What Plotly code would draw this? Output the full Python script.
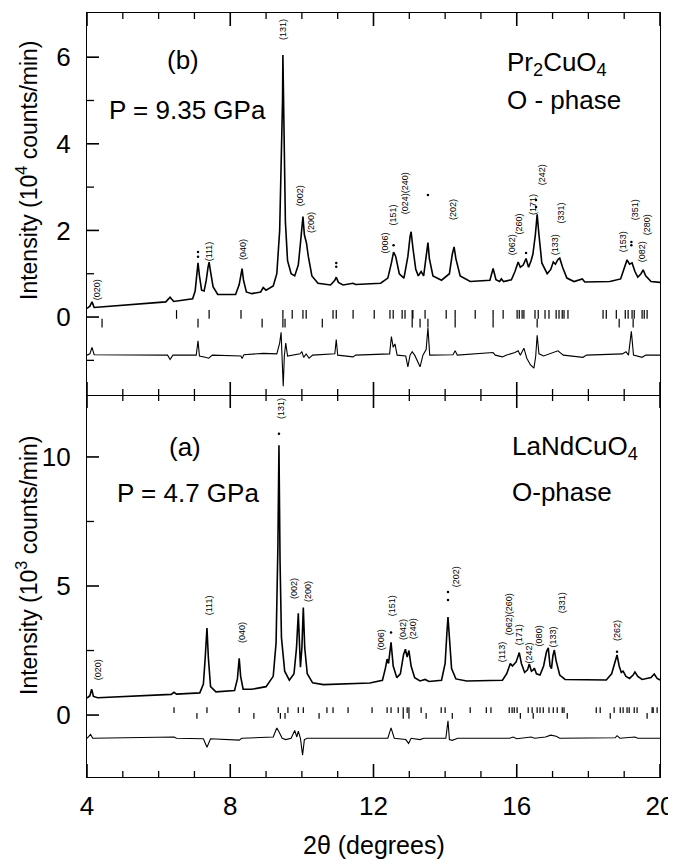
import plotly.graph_objects as go

FONT = "Liberation Sans, Arial, Helvetica, sans-serif"

# ================= Panel (b): Pr2CuO4, P = 9.35 GPa  (10^4 counts/min) =================
b_obs_x = [4.00, 4.08, 4.14, 4.20, 6.20, 6.32, 6.42, 6.95, 7.02, 7.07, 7.10, 7.14, 7.20, 7.27,
           7.33, 7.38, 7.41, 7.45, 7.52, 7.65, 8.15, 8.25, 8.30, 8.33, 8.37, 8.45, 8.60, 8.85,
           8.92, 9.00, 9.20, 9.30, 9.38, 9.43, 9.46, 9.47, 9.50, 9.54, 9.60, 9.70, 9.80, 9.90,
           9.96, 10.00, 10.03, 10.07, 10.13, 10.18, 10.28, 10.45, 10.80, 10.92, 10.96, 11.02,
           11.15, 11.43, 11.50, 12.20, 12.40, 12.50, 12.56, 12.62, 12.72, 12.85, 12.96, 13.02,
           13.05, 13.10, 13.18, 13.25, 13.33, 13.40, 13.47, 13.52, 13.56, 13.66, 13.90, 14.12,
           14.20, 14.25, 14.30, 14.42, 14.70, 15.25, 15.34, 15.42, 15.52, 15.57, 15.63, 15.85,
           15.95, 16.04, 16.10, 16.18, 16.26, 16.33, 16.40, 16.45, 16.52, 16.57, 16.62, 16.70,
           16.85, 16.95, 17.02, 17.08, 17.15, 17.20, 17.28, 17.40, 17.60, 17.83, 17.90, 18.60,
           18.90, 19.00, 19.08, 19.15, 19.22, 19.30, 19.38, 19.47, 19.53, 19.60, 19.75, 20.00]
b_obs_y = [0.20, 0.25, 0.35, 0.22, 0.35, 0.46, 0.36, 0.42, 0.60, 1.00, 1.25, 0.95, 0.62, 0.60,
           0.85, 1.15, 1.27, 1.05, 0.70, 0.52, 0.52, 0.75, 1.05, 1.12, 0.85, 0.58, 0.54, 0.58,
           0.68, 0.62, 0.72, 1.00, 2.00, 3.50, 5.00, 6.05, 4.00, 2.20, 1.30, 1.00, 0.95, 1.20,
           1.70, 2.20, 2.32, 1.90, 1.70, 1.40, 0.95, 0.78, 0.74, 0.85, 0.92, 0.80,
           0.74, 0.78, 0.75, 0.78, 0.90, 1.25, 1.50, 1.40, 1.00, 0.90, 1.40, 1.85,
           1.97, 1.60, 1.10, 0.95, 1.05, 0.95, 1.35, 1.72, 1.35, 0.95, 0.85, 1.00,
           1.45, 1.62, 1.35, 0.95, 0.82, 0.85, 1.12, 0.86, 0.82, 0.88, 0.82, 0.86,
           1.05, 1.27, 1.15, 1.20, 1.35, 1.15, 1.30, 1.45, 1.90, 2.37, 1.90, 1.25,
           1.00, 1.10, 1.27, 1.22, 1.33, 1.36, 1.15, 0.90, 0.82, 0.88, 0.81, 0.82,
           0.88, 1.10, 1.32, 1.22, 1.25, 1.05, 0.92, 1.00, 1.09, 0.95, 0.82, 0.80]

b_diff_x = [4.00, 4.08, 4.14, 4.20, 6.25, 6.32, 6.40, 7.05, 7.10, 7.14, 7.30, 7.40, 7.50, 8.30,
            8.33, 8.38, 8.92, 9.30, 9.38, 9.42, 9.45, 9.48, 9.51, 9.55, 9.60, 9.95, 10.00, 10.05,
            10.12, 10.20, 10.30, 10.92, 10.96, 11.00, 11.43, 11.50, 12.45, 12.50, 12.55, 12.60,
            12.66, 12.90, 12.96, 13.02, 13.08, 13.15, 13.30, 13.38, 13.47, 13.52, 13.57, 14.22,
            14.28, 14.34, 15.34, 15.40, 15.60, 15.70, 15.95, 16.04, 16.10, 16.20, 16.28, 16.38,
            16.48, 16.53, 16.57, 16.62, 16.75, 17.15, 17.30, 17.85, 17.95, 18.95, 19.05, 19.12,
            19.20, 19.26, 19.50, 19.60, 20.00]
b_diff_y = [-0.88, -0.85, -0.70, -0.87, -0.88, -0.98, -0.88, -0.88, -0.55, -0.90, -0.93, -0.95, -0.88, -0.90,
            -0.96, -0.87, -0.84, -0.85, -0.60, -0.35, -1.00, -1.60, -0.90, -0.60, -0.90, -0.85, -0.80, -0.93,
            -0.85, -0.95, -0.88, -0.85, -0.52, -0.88, -0.92, -0.88, -0.85, -0.45, -0.70, -0.62,
            -0.88, -0.90, -1.15, -0.88, -0.80, -0.88, -1.15, -0.88, -0.75, -0.25, -0.88, -0.87,
            -0.78, -0.88, -0.82, -0.88, -0.92, -0.88, -0.82, -0.78, -0.88, -0.72, -0.95, -1.10,
            -1.18, -0.90, -0.42, -0.85, -0.90, -0.78, -0.88, -0.93, -0.88, -0.85, -0.80, -0.88,
            -0.33, -0.88, -0.93, -0.88, -0.88]

b_refl_1 = [6.50, 7.41, 8.30, 9.47, 9.73, 10.03, 10.12, 10.87, 10.96, 11.43, 12.02, 12.46, 12.55,
            12.80, 12.88, 13.08, 13.10, 13.44, 14.03, 14.28, 14.84, 15.34, 15.62, 16.01, 16.07,
            16.15, 16.20, 16.51, 16.60, 16.79, 16.90, 17.10, 17.18, 17.27, 17.32, 17.43, 18.41,
            18.50, 18.78, 19.03, 19.11, 19.22, 19.28, 19.50, 19.56, 19.64]
b_refl_2 = [4.42, 7.10, 8.89, 9.47, 9.53, 10.57, 13.08, 13.30, 13.52, 14.28, 15.34, 16.57, 18.86, 19.25]

b_dots_x = [7.10, 7.10, 10.96, 10.96, 12.56, 13.52, 16.54, 16.54, 16.26, 19.20, 19.20]
b_dots_y = [1.50, 1.39, 1.25, 1.16, 1.66, 2.82, 2.70, 2.54, 1.48, 1.73, 1.66]

b_lbl_text = ["(020)", "(111)", "(040)", "(131)", "(002)", "(200)", "(006)", "(151)", "(024)(240)",
              "(202)", "(062)", "(260)", "(171)", "(242)", "(133)", "(331)", "(153)", "(351)",
              "(082)", "(280)"]
b_lbl_x = [4.28, 7.41, 8.36, 9.47, 9.95, 10.25, 12.32, 12.55, 12.88,
           14.22, 15.87, 16.05, 16.46, 16.71, 17.07, 17.25, 18.97, 19.31,
           19.50, 19.64]
b_lbl_y = [0.62, 1.52, 1.55, 6.65, 2.79, 2.19, 1.72, 2.35, 2.86,
           2.47, 1.66, 2.15, 2.59, 3.28, 1.66, 2.40, 1.73, 2.47,
           1.50, 2.12]

# ================= Panel (a): LaNdCuO4, P = 4.7 GPa  (10^3 counts/min) =================
a_obs_x = [4.00, 4.08, 4.13, 4.18, 4.30, 6.35, 6.43, 6.50, 7.15, 7.25, 7.30, 7.35, 7.39, 7.45,
           7.60, 8.12, 8.20, 8.25, 8.29, 8.36, 8.60, 9.00, 9.20, 9.28, 9.33, 9.36, 9.39, 9.43,
           9.52, 9.65, 9.78, 9.85, 9.90, 9.94, 9.96, 10.00, 10.04, 10.08, 10.15, 10.30, 10.60,
           11.90, 12.25, 12.33, 12.38, 12.42, 12.49, 12.55, 12.65, 12.75, 12.84, 12.89, 12.94,
           12.99, 13.05, 13.15, 13.30, 13.44, 13.55, 13.90, 14.00, 14.05, 14.08, 14.12, 14.18,
           14.30, 14.60, 15.60, 15.72, 15.82, 15.88, 15.93, 15.98, 16.03, 16.07, 16.13, 16.22,
           16.30, 16.35, 16.41, 16.46, 16.49, 16.55, 16.65, 16.75, 16.83, 16.88, 16.93, 16.97,
           17.01, 17.05, 17.10, 17.20, 17.35, 18.50, 18.65, 18.75, 18.80, 18.86, 18.92, 18.97,
           19.05, 19.15, 19.25, 19.30, 19.38, 19.50, 19.75, 19.84, 19.92, 20.00]
a_obs_y = [0.66, 0.75, 1.00, 0.72, 0.67, 0.80, 0.88, 0.81, 0.86, 1.20, 2.20, 3.37, 2.20, 1.10,
           0.90, 0.95, 1.40, 2.20, 1.50, 1.00, 1.00, 1.10, 1.50, 2.80, 6.50, 10.45, 6.00, 3.00,
           1.70, 1.35, 1.60, 2.60, 3.94, 2.50, 1.85, 2.60, 4.17, 2.60, 1.60, 1.25, 1.18,
           1.24, 1.35, 1.80, 2.17, 2.00, 2.82, 1.90, 1.45, 1.60, 2.35, 2.55, 2.25,
           2.50, 1.90, 1.45, 1.32, 1.38, 1.30, 1.35, 2.00, 3.20, 3.80, 3.00, 1.80,
           1.40, 1.32, 1.35, 1.60, 2.00, 1.90, 1.98, 2.05, 2.25, 2.42, 2.00, 1.65,
           1.75, 1.98, 1.70, 1.75, 1.82, 1.60, 1.55, 1.90, 2.45, 2.60, 1.90, 1.80,
           2.30, 2.52, 2.10, 1.55, 1.38, 1.36, 1.60, 2.10, 2.33, 1.90, 1.65, 1.70,
           1.50, 1.42, 1.55, 1.67, 1.50, 1.38, 1.45, 1.59, 1.42, 1.36]

a_diff_x = [4.00, 4.10, 4.16, 6.43, 6.50, 7.25, 7.35, 7.45, 8.25, 8.32, 9.20, 9.30, 9.36, 9.45,
            9.55, 9.70, 9.80, 9.86, 9.90, 9.96, 10.02, 10.07, 10.15, 12.40, 12.49, 12.58, 12.90,
            12.98, 13.05, 13.30, 13.40, 14.02, 14.08, 14.12, 14.20, 14.35, 15.80, 15.90, 16.00,
            16.40, 16.50, 16.80, 16.95, 17.10, 17.20, 18.75, 18.80, 18.88, 19.30, 19.38, 20.00]
a_diff_y = [-0.90, -0.75, -0.90, -0.85, -0.90, -0.92, -1.25, -0.92, -0.97, -0.90, -0.85, -0.50, -0.65, -0.90,
            -0.95, -0.90, -0.60, -0.85, -0.62, -0.90, -1.55, -0.95, -0.90, -0.90, -0.50, -0.90, -0.95,
            -1.10, -0.90, -0.95, -0.90, -0.90, -0.22, -0.95, -0.98, -0.90, -0.90, -0.85, -0.92,
            -0.85, -0.90, -0.85, -0.78, -0.82, -0.90, -0.88, -0.80, -0.90, -0.85, -0.90, -0.90]

a_refl_1 = [6.43, 7.35, 8.25, 9.34, 9.61, 9.90, 10.04, 10.70, 10.87, 11.29, 11.96, 12.38, 12.49,
            12.69, 12.83, 12.94, 12.99, 13.33, 13.89, 14.00, 14.70, 15.15, 15.28, 15.79, 15.87,
            15.93, 16.01, 16.32, 16.43, 16.57, 16.65, 16.74, 16.90, 17.02, 17.13, 17.27, 17.32,
            18.22, 18.33, 18.72, 18.89, 18.97, 19.08, 19.14, 19.28, 19.36, 19.78, 19.81, 19.92]
a_refl_2 = [7.07, 8.66, 9.40, 9.53, 10.48, 12.83, 12.99, 13.47, 14.20, 16.10, 16.46, 17.41, 18.61, 19.64]

a_dots_x = [9.36, 12.49, 14.08, 14.08, 18.80]
a_dots_y = [10.90, 3.20, 4.77, 4.46, 2.45]

a_lbl_text = ["(020)", "(111)", "(040)", "(131)", "(002)", "(200)", "(006)", "(151)", "(042)",
              "(240)", "(202)", "(113)", "(062)(260)", "(171)", "(242)", "(080)", "(133)",
              "(331)", "(262)"]
a_lbl_x = [4.31, 7.41, 8.33, 9.42, 9.78, 10.17, 12.21, 12.52, 12.83,
           13.11, 14.31, 15.59, 15.79, 16.07, 16.35, 16.63, 17.02,
           17.27, 18.80]
a_lbl_y = [1.74, 4.26, 3.18, 11.86, 4.88, 4.80, 2.90, 4.22, 3.30,
           3.33, 5.35, 2.44, 3.91, 3.10, 2.40, 3.06, 3.02,
           4.34, 3.26]

# axis scales and tick values
X_RANGE = [4, 20]
A_RANGE = [-2.4, 12.4]
B_RANGE = [-1.8, 7.02]
x_major = [4, 8, 12, 16, 20]
x_minor = [5, 6, 7, 9, 10, 11, 13, 14, 15, 17, 18, 19]
a_ymajor = [0, 5, 10]
a_yminor = [2.5, 7.5]
b_ymajor = [0, 2, 4, 6]
b_yminor = [-1, 1, 3, 5]

# plot geometry (px) used to turn tick lengths into data units
PLOT_W, PANEL_H = 573, 382
MAJ_X, MIN_X, MAJ_Y, MIN_Y = 13, 6, 12, 7


def tick_segments(pos, lo, hi):
    xs, ys = [], []
    for p in pos:
        xs += [p, p, None]
        ys += [lo, hi, None]
    return xs, ys


fig = go.Figure()

for (obs_x, obs_y, dif_x, dif_y, r1, r2, dx, dy, xa, ya, lev) in [
    (b_obs_x, b_obs_y, b_diff_x, b_diff_y, b_refl_1, b_refl_2, b_dots_x, b_dots_y, "x2", "y2",
     (-0.04, 0.16, -0.24, -0.04)),
    (a_obs_x, a_obs_y, a_diff_x, a_diff_y, a_refl_1, a_refl_2, a_dots_x, a_dots_y, "x", "y",
     (0.08, 0.30, -0.14, 0.08)),
]:
    fig.add_trace(go.Scatter(x=obs_x, y=obs_y, mode="lines", xaxis=xa, yaxis=ya,
                             line=dict(color="black", width=1.6), hoverinfo="skip"))
    fig.add_trace(go.Scatter(x=dif_x, y=dif_y, mode="lines", xaxis=xa, yaxis=ya,
                             line=dict(color="black", width=1.1), hoverinfo="skip"))
    tx, ty = tick_segments(r1, lev[0], lev[1])
    fig.add_trace(go.Scatter(x=tx, y=ty, mode="lines", xaxis=xa, yaxis=ya,
                             line=dict(color="black", width=1.2), hoverinfo="skip"))
    tx, ty = tick_segments(r2, lev[2], lev[3])
    fig.add_trace(go.Scatter(x=tx, y=ty, mode="lines", xaxis=xa, yaxis=ya,
                             line=dict(color="black", width=1.2), hoverinfo="skip"))
    fig.add_trace(go.Scatter(x=dx, y=dy, mode="markers", xaxis=xa, yaxis=ya,
                             marker=dict(color="black", size=2.5), hoverinfo="skip"))

# inward frame ticks as layout shapes placed in each panel's data coordinates
shapes = []
xu = (X_RANGE[1] - X_RANGE[0]) / PLOT_W
for xr, yref, yr, ymaj, ymin in [("x", "y", A_RANGE, a_ymajor, a_yminor),
                                 ("x2", "y2", B_RANGE, b_ymajor, b_yminor)]:
    yu = (yr[1] - yr[0]) / PANEL_H
    for vals, ln, w in [(x_major, MAJ_X, 1.6), (x_minor, MIN_X, 1.3)]:
        for v in vals:
            for y0, y1 in [(yr[0], yr[0] + ln * yu), (yr[1] - ln * yu, yr[1])]:
                shapes.append(dict(type="line", xref=xr, yref=yref, x0=v, x1=v, y0=y0, y1=y1,
                                   line=dict(color="black", width=w), layer="above"))
    for vals, ln, w in [(ymaj, MAJ_Y, 1.6), (ymin, MIN_Y, 1.3)]:
        for v in vals:
            shapes.append(dict(type="line", xref=xr, yref=yref, x0=X_RANGE[0],
                               x1=X_RANGE[0] + ln * xu, y0=v, y1=v,
                               line=dict(color="black", width=w), layer="above"))

LBL = dict(size=9, family=FONT)
ann = []
for txt, x, y in zip(b_lbl_text, b_lbl_x, b_lbl_y):
    ann.append(dict(text=txt, x=x, y=y, xref="x2", yref="y2", textangle=-90, showarrow=False,
                    font=LBL))
for txt, x, y in zip(a_lbl_text, a_lbl_x, a_lbl_y):
    ann.append(dict(text=txt, x=x, y=y, xref="x", yref="y", textangle=-90, showarrow=False,
                    font=LBL))

big = dict(size=26, family=FONT)
ann += [
    dict(text="(b)", x=6.68, y=5.94, xref="x2", yref="y2", showarrow=False, font=big),
    dict(text="P = 9.35 GPa", x=4.56, y=4.78, xref="x2", yref="y2", xanchor="left",
         showarrow=False, font=big),
    dict(text="Pr<sub>2</sub>CuO<sub>4</sub>", x=15.68, y=5.85, xref="x2", yref="y2",
         xanchor="left", showarrow=False, font=big),
    dict(text="O - phase", x=15.68, y=5.01, xref="x2", yref="y2", xanchor="left",
         showarrow=False, font=big),
    dict(text="(a)", x=6.74, y=10.39, xref="x", yref="y", showarrow=False, font=big),
    dict(text="P = 4.7 GPa", x=4.78, y=8.6, xref="x", yref="y", xanchor="left",
         showarrow=False, font=big),
    dict(text="LaNdCuO<sub>4</sub>", x=15.82, y=10.35, xref="x", yref="y", xanchor="left",
         showarrow=False, font=big),
    dict(text="O-phase", x=15.82, y=8.64, xref="x", yref="y", xanchor="left",
         showarrow=False, font=big),
    dict(text="Intensity (10<sup>4</sup> counts/min)", x=-0.1047, y=0.7945, xref="paper",
         yref="paper", xanchor="center", yanchor="middle", textangle=-90, showarrow=False,
         font=dict(size=23, family=FONT)),
    dict(text="Intensity (10<sup>3</sup> counts/min)", x=-0.1047, y=0.2775, xref="paper",
         yref="paper", xanchor="center", yanchor="middle", textangle=-90, showarrow=False,
         font=dict(size=23, family=FONT)),
    dict(text="2θ (degrees)", x=0.5, y=-0.089, xref="paper", yref="paper", xanchor="center",
         yanchor="middle", showarrow=False, font=dict(size=25, family=FONT)),
]

fig.update_layout(
    width=668, height=856,
    margin=dict(l=79, r=16, t=5, b=87, autoexpand=False),
    plot_bgcolor="white", paper_bgcolor="white",
    showlegend=False,
    font=dict(family=FONT, color="black"),
    xaxis=dict(anchor="y", domain=[0, 1], range=X_RANGE, tickvals=x_major, ticks="",
               showline=True, linewidth=1.4, linecolor="black", mirror=False,
               showgrid=False, zeroline=False, tickfont=dict(size=26, family=FONT),
               ticklabelstandoff=6, ticklabeloverflow="allow"),
    xaxis2=dict(anchor="y2", domain=[0, 1], range=X_RANGE, ticks="", showline=True,
                linewidth=1.4, linecolor="black", mirror=True, showgrid=False, zeroline=False,
                showticklabels=False),
    yaxis=dict(anchor="x", domain=[0, 0.5], range=A_RANGE, tickvals=a_ymajor, ticks="",
               showline=True, linewidth=1.4, linecolor="black", mirror=True,
               showgrid=False, zeroline=False, tickfont=dict(size=26, family=FONT),
               ticklabelstandoff=10),
    yaxis2=dict(anchor="x2", domain=[0.5, 1], range=B_RANGE, tickvals=b_ymajor, ticks="",
                showline=True, linewidth=1.4, linecolor="black", mirror=True,
                showgrid=False, zeroline=False, tickfont=dict(size=26, family=FONT),
                ticklabelstandoff=10),
    shapes=shapes,
    annotations=ann,
)

fig.write_html("out.html")
